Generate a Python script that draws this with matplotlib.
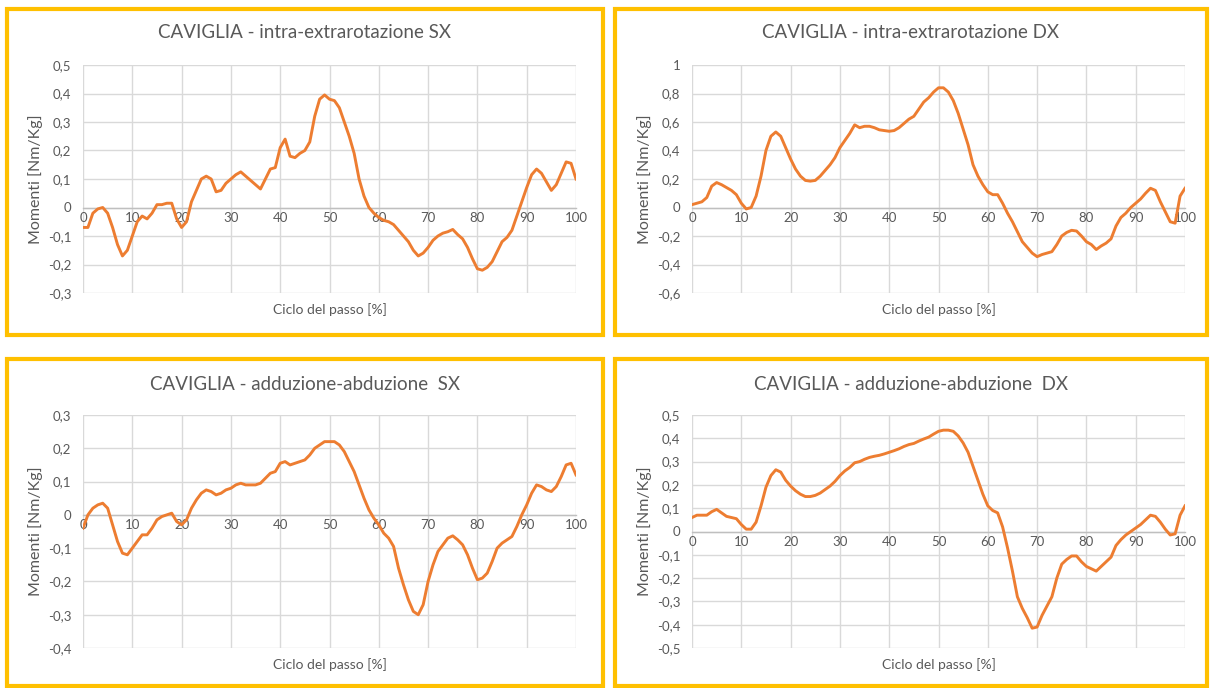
import matplotlib
matplotlib.use("Agg")
import matplotlib.pyplot as plt
from matplotlib.patches import Rectangle
from matplotlib.ticker import FuncFormatter, MultipleLocator

W, H = 1210, 688

# gait cycle, percent
ciclo = list(range(0, 101))

# ankle moments [Nm/Kg]
intra_extra_sx = [
    -0.07, -0.07, -0.02, -0.005, 0.0, -0.02, -0.07, -0.13, -0.17, -0.15,
    -0.10, -0.05, -0.03, -0.04, -0.02, 0.01, 0.01, 0.015, 0.015, -0.04,
    -0.07, -0.05, 0.02, 0.06, 0.10, 0.11, 0.10, 0.055, 0.06, 0.085,
    0.10, 0.115, 0.125, 0.11, 0.095, 0.08, 0.065, 0.10, 0.135, 0.14,
    0.21, 0.24, 0.18, 0.175, 0.19, 0.20, 0.23, 0.32, 0.38, 0.395,
    0.38, 0.375, 0.35, 0.30, 0.25, 0.19, 0.10, 0.04, 0.0, -0.02,
    -0.035, -0.045, -0.05, -0.06, -0.08, -0.10, -0.12, -0.15, -0.17, -0.16,
    -0.14, -0.115, -0.10, -0.09, -0.085, -0.077, -0.095, -0.11, -0.14, -0.18,
    -0.215, -0.22, -0.21, -0.19, -0.155, -0.12, -0.105, -0.08, -0.03, 0.02,
    0.07, 0.115, 0.135, 0.12, 0.09, 0.06, 0.08, 0.12, 0.16, 0.155,
    0.10,
]

intra_extra_dx = [
    0.02, 0.03, 0.04, 0.07, 0.15, 0.175, 0.16, 0.14, 0.12, 0.09,
    0.03, -0.01, 0.0, 0.08, 0.22, 0.40, 0.50, 0.53, 0.50, 0.42,
    0.34, 0.27, 0.22, 0.19, 0.185, 0.19, 0.22, 0.26, 0.30, 0.35,
    0.42, 0.47, 0.52, 0.58, 0.56, 0.57, 0.57, 0.56, 0.545, 0.54,
    0.535, 0.54, 0.56, 0.59, 0.62, 0.64, 0.69, 0.74, 0.77, 0.81,
    0.84, 0.84, 0.81, 0.75, 0.66, 0.55, 0.44, 0.30, 0.22, 0.16,
    0.11, 0.09, 0.09, 0.03, -0.04, -0.10, -0.17, -0.24, -0.28, -0.32,
    -0.345, -0.33, -0.32, -0.31, -0.26, -0.20, -0.175, -0.16, -0.165, -0.20,
    -0.24, -0.26, -0.295, -0.27, -0.25, -0.22, -0.13, -0.07, -0.04, 0.0,
    0.03, 0.06, 0.10, 0.135, 0.12, 0.04, -0.03, -0.10, -0.11, 0.08,
    0.135,
]

add_abd_sx = [
    -0.04, 0.0, 0.02, 0.03, 0.035, 0.02, -0.03, -0.08, -0.115, -0.12,
    -0.10, -0.08, -0.06, -0.06, -0.04, -0.015, -0.005, 0.0, 0.005, -0.02,
    -0.03, -0.015, 0.02, 0.045, 0.065, 0.075, 0.07, 0.06, 0.065, 0.075,
    0.08, 0.09, 0.095, 0.09, 0.09, 0.09, 0.095, 0.11, 0.125, 0.13,
    0.155, 0.16, 0.15, 0.155, 0.16, 0.165, 0.18, 0.20, 0.21, 0.22,
    0.22, 0.22, 0.21, 0.19, 0.16, 0.13, 0.09, 0.05, 0.015, -0.01,
    -0.03, -0.055, -0.07, -0.095, -0.16, -0.21, -0.255, -0.29, -0.30, -0.27,
    -0.20, -0.15, -0.11, -0.09, -0.07, -0.063, -0.075, -0.09, -0.12, -0.16,
    -0.195, -0.19, -0.175, -0.14, -0.10, -0.085, -0.075, -0.065, -0.035, 0.0,
    0.03, 0.065, 0.09, 0.085, 0.075, 0.07, 0.085, 0.115, 0.15, 0.155,
    0.12,
]

add_abd_dx = [
    0.06, 0.07, 0.07, 0.07, 0.085, 0.095, 0.08, 0.065, 0.06, 0.055,
    0.03, 0.01, 0.01, 0.04, 0.11, 0.19, 0.24, 0.265, 0.255, 0.22,
    0.195, 0.175, 0.16, 0.15, 0.15, 0.155, 0.165, 0.18, 0.195, 0.215,
    0.24, 0.26, 0.275, 0.295, 0.30, 0.31, 0.318, 0.323, 0.327, 0.333,
    0.34, 0.347, 0.355, 0.365, 0.373, 0.378, 0.388, 0.397, 0.405, 0.418,
    0.43, 0.435, 0.435, 0.43, 0.41, 0.38, 0.34, 0.28, 0.22, 0.16,
    0.11, 0.09, 0.08, 0.02, -0.07, -0.17, -0.28, -0.33, -0.37, -0.415,
    -0.41, -0.36, -0.32, -0.28, -0.20, -0.14, -0.12, -0.105, -0.105, -0.13,
    -0.15, -0.16, -0.17, -0.15, -0.13, -0.11, -0.06, -0.035, -0.015, 0.0,
    0.015, 0.03, 0.05, 0.07, 0.065, 0.04, 0.01, -0.015, -0.01, 0.07,
    0.11,
]

titoli = [
    "CAVIGLIA - intra-extrarotazione SX",
    "CAVIGLIA - intra-extrarotazione DX",
    "CAVIGLIA - adduzione-abduzione  SX",
    "CAVIGLIA - adduzione-abduzione  DX",
]
serie = [intra_extra_sx, intra_extra_dx, add_abd_sx, add_abd_dx]
y_lim = [(-0.3, 0.5), (-0.6, 1.0), (-0.4, 0.3), (-0.5, 0.5)]
y_passo = [0.1, 0.2, 0.1, 0.1]

# pixel boxes: plot area (left, top, right, bottom), frame, title height
aree = [
    ((83, 65, 576, 293), (7, 8.5, 603, 335), 33),
    ((692, 65, 1185, 293), (615, 8.5, 1207, 335), 33),
    ((83, 415, 576, 648), (7, 359, 603, 686), 385),
    ((692, 415, 1185, 648), (615, 359, 1207, 686), 385),
]

ARANCIO = "#ED7D31"
GRIGIO = "#595959"
GRIGLIA = "#D9D9D9"
ORO = "#FFC000"

plt.rcParams['font.family'] = ['Lato', 'DejaVu Sans']


def virgola(v, pos):
    s = f"{round(v, 1):g}".replace('.', ',')
    return "0" if s == "-0" else s


fig = plt.figure(figsize=(W / 100, H / 100), dpi=100)
fig.patch.set_facecolor("white")

for titolo, y, lim, passo, (box, cornice, ty) in zip(titoli, serie, y_lim, y_passo, aree):
    l, t, r, b = box
    ax = fig.add_axes([l / W, 1 - b / H, (r - l) / W, (b - t) / H])
    ax.plot(ciclo, y, color=ARANCIO, lw=2.1, solid_joinstyle='round', zorder=3)

    ax.set_xlim(0, 100)
    ax.set_ylim(*lim)
    ax.xaxis.set_major_locator(MultipleLocator(10))
    ax.yaxis.set_major_locator(MultipleLocator(passo))
    ax.yaxis.set_major_formatter(FuncFormatter(virgola))
    ax.grid(True, color=GRIGLIA, lw=1)
    ax.set_axisbelow(True)

    for lato in ("top", "right", "left"):
        ax.spines[lato].set_visible(False)
    # x axis crosses at zero, labels sit right under it
    ax.spines["bottom"].set_position(("data", 0))
    ax.spines["bottom"].set_color("#BFBFBF")
    ax.spines["bottom"].set_linewidth(1)
    ax.tick_params(length=0, labelsize=9.5, labelcolor=GRIGIO)
    ax.tick_params(axis="y", pad=8.5)
    ax.tick_params(axis="x", pad=3)

    ax.set_xlabel("Ciclo del passo [%]", fontsize=10, color=GRIGIO)
    ax.xaxis.set_label_coords(0.5, -10 / (b - t), transform=ax.transAxes)
    ax.set_ylabel("Momenti [Nm/Kg]", fontsize=11.5, color=GRIGIO, labelpad=3.5)

    cx = (cornice[0] + cornice[2]) / 2
    fig.text(cx / W, 1 - ty / H, titolo, ha="center", va="center",
             fontsize=13.5, color=GRIGIO)

    fx0, fy0, fx1, fy1 = cornice
    fig.add_artist(Rectangle((fx0 / W, 1 - fy1 / H), (fx1 - fx0) / W, (fy1 - fy0) / H,
                             transform=fig.transFigure, fill=False,
                             edgecolor=ORO, lw=3))

fig.savefig("out.png", dpi=100, facecolor="white")
